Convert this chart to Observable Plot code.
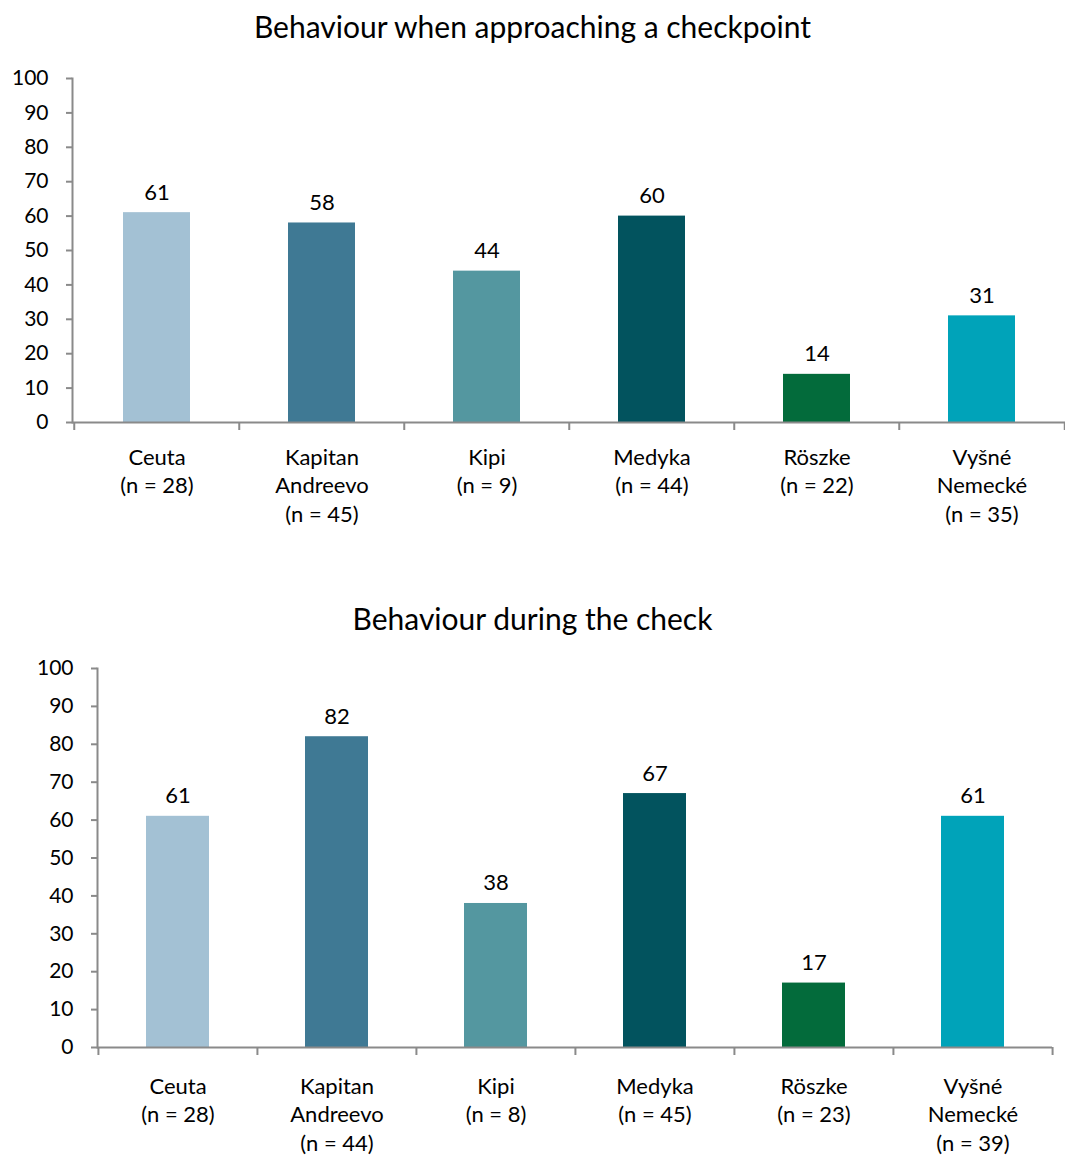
<!DOCTYPE html>
<html>
<head>
<meta charset="utf-8">
<script src="https://cdn.jsdelivr.net/npm/d3@7"></script>
<script src="https://cdn.jsdelivr.net/npm/@observablehq/plot@0.6"></script>
<style>
  html, body { margin: 0; padding: 0; background: #fff; }
  body { width: 1065px; font-family: Lato, "Open Sans", sans-serif; color: #000; }
  .title { text-align: center; font-size: 30px; font-family: Lato, sans-serif; }
  #t1 { height: 55px; line-height: 52px; }
  #t2 { height: 55px; line-height: 56px; margin-top: 53px; }
  svg { display: block; }
</style>
</head>
<body>
<div class="title" id="t1"></div>
<div id="c1"></div>
<div class="title" id="t2"></div>
<div id="c2"></div>
<script>
const title1 = "Behaviour when approaching a checkpoint";
const title2 = "Behaviour during the check";
const places = ["Ceuta", "Kapitan\nAndreevo", "Kipi", "Medyka", "Röszke", "Vyšné\nNemecké"];
const n1 = [28, 45, 9, 44, 22, 35];
const n2 = [28, 44, 8, 45, 23, 39];
const values1 = [61, 58, 44, 60, 14, 31];
const values2 = [61, 82, 38, 67, 17, 61];
const colors = ["#a3c1d4", "#3f7994", "#5497a0", "#02535e", "#036b3b", "#00a3b9"];
const yTicks = [0, 10, 20, 30, 40, 50, 60, 70, 80, 90, 100];

function makeChart({values, ns, width, height, marginLeft, marginRight, marginTop, marginBottom, inset, labelPad}) {
  const data = places.map((p, i) => ({key: p, label: `${p}\n(n = ${ns[i]})`, value: values[i], color: colors[i]}));
  const bw = (width - marginLeft - marginRight) / places.length;
  const axisColor = "#8a8a8a";
  return Plot.plot({
    width, height, marginLeft, marginRight, marginTop, marginBottom,
    style: {fontFamily: "Lato, 'Open Sans', sans-serif", fontSize: "21px", color: "#000", background: "#fff"},
    x: {domain: places, padding: 0, label: null},
    y: {domain: [0, 100], label: null},
    marks: [
      Plot.barY(data, {x: "key", y: "value", fill: "color", insetLeft: inset, insetRight: inset}),
      Plot.text(data, {x: "key", y: "value", text: d => String(d.value), lineAnchor: "bottom", dy: -13, fontSize: 22, fill: "#000"}),
      Plot.frame({anchor: "left", stroke: axisColor, strokeWidth: 2}),
      Plot.ruleY([0], {stroke: axisColor, strokeWidth: 2}),
      Plot.axisY(yTicks, {tickSize: 6, tickPadding: 18, stroke: axisColor, strokeWidth: 2, strokeOpacity: 1, fill: "#000", fontSize: 21}),
      Plot.axisX({tickSize: 0, tickPadding: labelPad, fontSize: 22, fill: "#000", lineHeight: 1.3,
        tickFormat: d => data[places.indexOf(d)].label}),
      Plot.axisX(places, {tickSize: 8, dx: -bw / 2, tickFormat: () => "", stroke: axisColor, strokeWidth: 2, strokeOpacity: 1}),
      Plot.axisX([places[places.length - 1]], {tickSize: 8, dx: bw / 2, tickFormat: () => "", stroke: axisColor, strokeWidth: 2, strokeOpacity: 1})
    ]
  });
}

document.getElementById("t1").textContent = title1;
document.getElementById("t2").textContent = title2;

document.getElementById("c1").appendChild(makeChart({
  values: values1, ns: n1, width: 1065, height: 482,
  marginLeft: 72, marginRight: 0, marginTop: 23, marginBottom: 115, inset: 49, labelPad: 22
}));
document.getElementById("c2").appendChild(makeChart({
  values: values2, ns: n2, width: 1065, height: 512,
  marginLeft: 97, marginRight: 13, marginTop: 23, marginBottom: 110, inset: 48, labelPad: 26
}));
</script>
</body>
</html>
